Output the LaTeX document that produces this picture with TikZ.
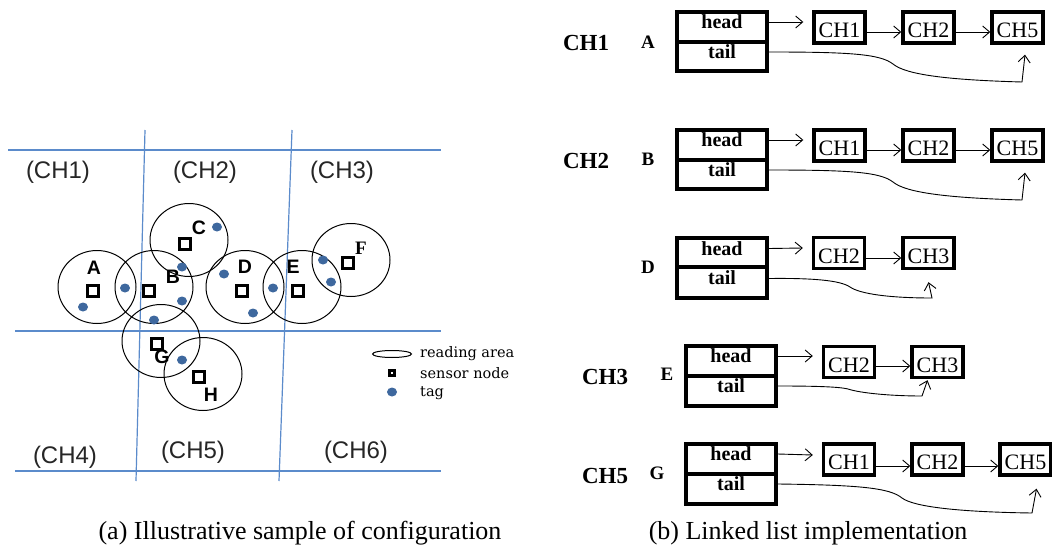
\documentclass[tikz,border=0pt]{standalone}
\usepackage{fontspec}
\setmainfont{Liberation Serif}
\setsansfont{Liberation Sans}
\newfontfamily\legfont{DejaVu Serif}
\usetikzlibrary{arrows.meta,shapes.geometric}
\definecolor{gridblue}{HTML}{5B8BCB}
\definecolor{tagblue}{HTML}{3E689E}
\begin{document}
\begin{tikzpicture}[x=1pt,y=-1pt,
  gridline/.style={gridblue,line width=1.2pt},
  region/.style={font=\sffamily\fontsize{24}{26}\selectfont,text=black!85,inner sep=0},
  area/.style={draw,ellipse,line width=1pt,minimum width=78pt,minimum height=73pt,inner sep=0},
  sensor/.style={draw,line width=3.2pt,minimum size=11pt,inner sep=0},
  tag/.style={fill=tagblue,ellipse,minimum width=10pt,minimum height=9pt,inner sep=0},
  slabel/.style={font=\sffamily\bfseries\fontsize{19.5}{21}\selectfont,inner sep=0},
  legtxt/.style={font=\legfont\fontsize{14.5}{16}\selectfont,anchor=west,inner sep=0},
  caption/.style={font=\fontsize{26}{28}\selectfont,inner sep=0},
  cell/.style={draw,line width=3.4pt,minimum width=90pt,inner sep=0},
  celltxt/.style={font=\bfseries\fontsize{20}{22}\selectfont,inner sep=0},
  chbox/.style={draw,line width=3.4pt,minimum width=51pt,minimum height=31pt,inner sep=0},
  chtxt/.style={font=\fontsize{22}{24}\selectfont,inner sep=0},
  grp/.style={font=\bfseries\fontsize{23}{25}\selectfont,inner sep=0},
  who/.style={font=\bfseries\fontsize{19}{21}\selectfont,inner sep=0},
  arr/.style={line width=0.9pt,-{Straight Barb[length=7pt,width=12pt]}}
]
\useasboundingbox (0,0) rectangle (1052,551);

% ---------- (a) configuration ----------
\draw[gridline] (8,150) -- (441,150);
\draw[gridline] (15,331) -- (441,331);
\draw[gridline] (15,471) -- (441,471);
\draw[gridline] (145,130) -- (136,481);
\draw[gridline] (292,130) -- (279,481);

\node[region] (r1) at (58,172) {(CH1)};
\node[region] (r2) at (205,172) {(CH2)};
\node[region] (r3) at (342,172) {(CH3)};
\node[region] (r4) at (65,457) {(CH4)};
\node[region] (r5) at (193,452) {(CH5)};
\node[region] (r6) at (356,452) {(CH6)};

\node[area] (cA) at (97,287) {};
\node[area] (cB) at (154,287) {};
\node[area] (cC) at (189,240) {};
\node[area] (cD) at (245,287) {};
\node[area] (cE) at (302,287) {};
\node[area] (cF) at (351,260) {};
\node[area] (cG) at (161,341) {};
\node[area] (cH) at (203,374) {};

\node[sensor] (sA) at (93,291) {};
\node[sensor] (sB) at (149,291) {};
\node[sensor] (sC) at (185,244) {};
\node[sensor] (sD) at (242,291) {};
\node[sensor] (sE) at (298,291) {};
\node[sensor] (sF) at (348,263) {};
\node[sensor] (sG) at (157,344) {};
\node[sensor] (sH) at (199,377) {};

\node[slabel] (lA) at (94,268) {A};
\node[slabel] (lB) at (173,277) {B};
\node[slabel] (lC) at (199,228) {C};
\node[slabel] (lD) at (245,267) {D};
\node[slabel] (lE) at (293,267) {E};
\node[slabel,font=\bfseries\fontsize{19}{21}\selectfont] (lF) at (361,248) {F};
\node[slabel] (lG) at (162,357) {G};
\node[slabel] (lH) at (211,395) {H};

\node[tag] (t1) at (83,307) {};
\node[tag] (t2) at (125,288) {};
\node[tag] (t3) at (182,267) {};
\node[tag] (t4) at (182,301) {};
\node[tag] (t5) at (154,320) {};
\node[tag] (t6) at (217,227) {};
\node[tag] (t7) at (224,274) {};
\node[tag] (t8) at (253,313) {};
\node[tag] (t9) at (273,288) {};
\node[tag] (t10) at (323,260) {};
\node[tag] (t11) at (331,282) {};
\node[tag] (t12) at (182,360) {};

% legend
\node[draw,ellipse,line width=1pt,fill=white,minimum width=39pt,minimum height=7pt,inner sep=0] (kA) at (392,354) {};
\node[draw,line width=2.6pt,minimum size=5.5pt,inner sep=0] (kS) at (392,373) {};
\node[tag] (kT) at (392,392) {};
\node[legtxt] (kAt) at (420,354) {reading area};
\node[legtxt] (kSt) at (420,373) {sensor node};
\node[legtxt] (kTt) at (420,393) {tag};

\node[caption] (capa) at (300,533) {(a) Illustrative sample of configuration};

% ---------- (b) linked lists ----------
% row 1 : CH1 / A
\node[grp] (g1) at (586,43) {CH1};
\node[who] (w1) at (648,42) {A};
\node[cell,minimum height=30pt] (h1) at (722,27) {};
\node[cell,minimum height=29pt] (l1) at (722,56.5) {};
\node[celltxt] at ([yshift=5pt]h1.center) {head};
\node[celltxt] at ([yshift=5pt]l1.center) {tail};
\node[chbox] (a1) at (839.5,27.5) {};
\node[chbox] (a2) at (928.5,27.5) {};
\node[chbox] (a3) at (1017.5,27.5) {};
\node[chtxt] at ([yshift=-3pt]a1.center) {CH1};
\node[chtxt] at ([yshift=-3pt]a2.center) {CH2};
\node[chtxt] at ([yshift=-3pt]a3.center) {CH5};
\coordinate (e1) at ([xshift=-9pt,yshift=5.5pt]a1.west);
\draw[arr] ([yshift=5pt]h1.east) -- (e1);
\draw[arr] ([yshift=-4.5pt]a1.east) -- ([yshift=-4.5pt]a2.west);
\draw[arr] ([yshift=-4.5pt]a2.east) -- ([yshift=-4.5pt]a3.west);
\coordinate (f1) at ([xshift=7.5pt,yshift=-10pt]a3.south);
\draw[arr] ([yshift=4.5pt]l1.east) .. controls (850,52) and (880,54) .. (893,64)
  .. controls (906,75) and (950,80) .. (1022,82) -- (f1);

% row 2 : CH2 / B
\node[grp] (g2) at (586,161) {CH2};
\node[who] (w2) at (648,159) {B};
\node[cell,minimum height=30pt] (h2) at (722,145) {};
\node[cell,minimum height=29pt] (l2) at (722,174.5) {};
\node[celltxt] at ([yshift=5pt]h2.center) {head};
\node[celltxt] at ([yshift=5pt]l2.center) {tail};
\node[chbox] (b1) at (839.5,145.5) {};
\node[chbox] (b2) at (928.5,145.5) {};
\node[chbox] (b3) at (1017.5,145.5) {};
\node[chtxt] at ([yshift=-3pt]b1.center) {CH1};
\node[chtxt] at ([yshift=-3pt]b2.center) {CH2};
\node[chtxt] at ([yshift=-3pt]b3.center) {CH5};
\coordinate (e2) at ([xshift=-9pt,yshift=5.5pt]b1.west);
\draw[arr] ([yshift=5pt]h2.east) -- (e2);
\draw[arr] ([yshift=-4.5pt]b1.east) -- ([yshift=-4.5pt]b2.west);
\draw[arr] ([yshift=-4.5pt]b2.east) -- ([yshift=-4.5pt]b3.west);
\coordinate (f2) at ([xshift=7.5pt,yshift=-10pt]b3.south);
\draw[arr] ([yshift=4.5pt]l2.east) .. controls (850,170) and (880,172) .. (893,182)
  .. controls (906,193) and (950,198) .. (1022,200) -- (f2);

% row 3 : D
\node[who] (w3) at (648,267) {D};
\node[cell,minimum height=29pt] (h3) at (722,252.5) {};
\node[cell,minimum height=31pt] (l3) at (722,282.5) {};
\node[celltxt] at ([yshift=4pt]h3.center) {head};
\node[celltxt] at ([yshift=5pt]l3.center) {tail};
\node[chbox] (d1) at (839,253) {};
\node[chbox] (d2) at (928.5,253) {};
\node[chtxt] at ([yshift=-3pt]d1.center) {CH2};
\node[chtxt] at ([yshift=-3pt]d2.center) {CH3};
\coordinate (e3) at ([xshift=-9pt,yshift=5pt]d1.west);
\draw[arr] ([yshift=4pt]h3.east) -- (e3);
\draw[arr] ([yshift=-5pt]d1.east) -- ([yshift=-5pt]d2.west);
\coordinate (f3) at ([xshift=0pt,yshift=-12pt]d2.south);
\draw[arr] ([yshift=4pt]l3.east) .. controls (810,278) and (840,280) .. (850,287)
  .. controls (860,294) and (890,298) .. (932,298) -- (f3);

% row 4 : CH3 / E
\node[grp] (g4) at (605,377) {CH3};
\node[who] (w4) at (667,374) {E};
\node[cell,minimum height=30pt] (h4) at (731,361) {};
\node[cell,minimum height=30pt] (l4) at (731,391) {};
\node[celltxt] at ([yshift=5pt]h4.center) {head};
\node[celltxt] at ([yshift=5pt]l4.center) {tail};
\node[chbox] (e4a) at (849,362) {};
\node[chbox] (e4b) at (937.5,362) {};
\node[chtxt] at ([yshift=-3pt]e4a.center) {CH2};
\node[chtxt] at ([yshift=-3pt]e4b.center) {CH3};
\coordinate (e4) at ([xshift=-9pt,yshift=6pt]e4a.west);
\draw[arr] ([yshift=5pt]h4.east) -- (e4);
\draw[arr] ([yshift=-4pt]e4a.east) -- ([yshift=-4pt]e4b.west);
\coordinate (f4) at ([xshift=-10pt,yshift=-1pt]e4b.south);
\draw[arr] ([yshift=5pt]l4.east) .. controls (820,386) and (840,387) .. (848,389)
  .. controls (860,393) and (890,396) .. (922,396) -- (f4);

% row 5 : CH5 / G
\node[grp] (g5) at (605,476) {CH5};
\node[who] (w5) at (657,473) {G};
\node[cell,minimum height=30pt] (h5) at (731,459) {};
\node[cell,minimum height=30pt] (l5) at (731,489) {};
\node[celltxt] at ([yshift=5pt]h5.center) {head};
\node[celltxt] at ([yshift=5pt]l5.center) {tail};
\node[chbox] (c1) at (849,459.5) {};
\node[chbox] (c2) at (937.5,459.5) {};
\node[chbox] (c3) at (1025.5,459.5) {};
\node[chtxt] at ([yshift=-3pt]c1.center) {CH1};
\node[chtxt] at ([yshift=-3pt]c2.center) {CH2};
\node[chtxt] at ([yshift=-3pt]c3.center) {CH5};
\coordinate (e5) at ([xshift=-9pt,yshift=4.5pt]c1.west);
\draw[arr] ([yshift=5pt]h5.east) -- (e5);
\draw[arr] ([yshift=-6.5pt]c1.east) -- ([yshift=-6.5pt]c2.west);
\draw[arr] ([yshift=-6.5pt]c2.east) -- ([yshift=-6.5pt]c3.west);
\coordinate (f5) at ([xshift=11pt,yshift=-12pt]c3.south);
\draw[arr] ([yshift=5pt]l5.east) .. controls (860,485) and (890,488) .. (902,498)
  .. controls (914,507) and (960,512) .. (1032,513) -- (f5);

\node[caption] (capb) at (808,533) {(b) Linked list implementation};
\end{tikzpicture}
\end{document}
